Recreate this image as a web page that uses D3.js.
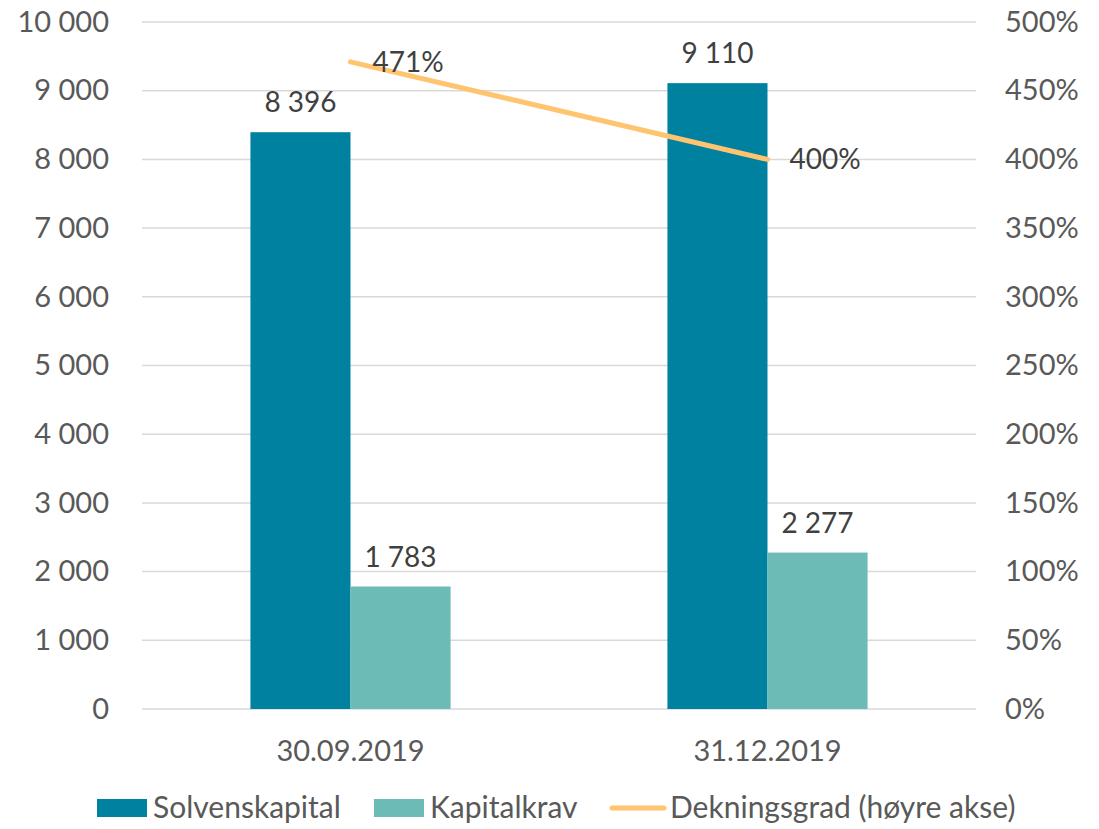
<html>
<head>
<meta charset="utf-8" />
<script src="https://d3js.org/d3.v7.min.js"></script>
<style>
  body { margin: 0; background: #fff; }
  text { font-family: Lato, "Open Sans", sans-serif; }
</style>
</head>
<body>
<div id="chart"></div>
<script>
// data
const datoer = ["30.09.2019", "31.12.2019"];
const solvenskapital = [8396, 9110];
const kapitalkrav = [1783, 2277];
const dekningsgrad = [471, 400];   // prosent, hoyre akse
const venstreTicks = [0, 1000, 2000, 3000, 4000, 5000, 6000, 7000, 8000, 9000, 10000];
const hoyreTicks = [0, 50, 100, 150, 200, 250, 300, 350, 400, 450, 500];
const serier = ["Solvenskapital", "Kapitalkrav"];
const farger = ["#0081A0", "#6CBBB7"];
const linjeFarge = "#FFC470";

const W = 1099, H = 829;
const venstre = 142, hoyre = 976, topp = 22, bunn = 709;

const svg = d3.select("#chart").append("svg").attr("width", W).attr("height", H);

const x = d3.scaleBand().domain(datoer).range([venstre, hoyre]).paddingInner(0.52).paddingOuter(0.26);
const xs = d3.scaleBand().domain(serier).range([0, x.bandwidth()]);
const y = d3.scaleLinear().domain([0, 10000]).range([bunn, topp]);
const y2 = d3.scaleLinear().domain([0, 500]).range([bunn, topp]);

const tall = d => d3.format(",")(d).replace(/,/g, " ");

// rutenett
svg.append("g").selectAll("line").data(venstreTicks).join("line")
  .attr("x1", venstre).attr("x2", hoyre)
  .attr("y1", d => y(d)).attr("y2", d => y(d))
  .attr("stroke", "#D9D9D9").attr("stroke-width", 1.5);

// venstre akse
svg.append("g").attr("transform", `translate(${venstre - 30},0)`)
  .call(d3.axisLeft(y).tickValues(venstreTicks).tickFormat(tall).tickSize(0))
  .call(g => g.select(".domain").remove())
  .selectAll("text").attr("font-size", 29).attr("fill", "#595959").attr("font-family", "Lato");

// hoyre akse
svg.append("g").attr("transform", `translate(${hoyre + 26},0)`)
  .call(d3.axisRight(y2).tickValues(hoyreTicks).tickFormat(d => d + "%").tickSize(0))
  .call(g => g.select(".domain").remove())
  .selectAll("text").attr("font-size", 29).attr("fill", "#595959").attr("font-family", "Lato");

// x akse
svg.append("g").attr("transform", `translate(0,${bunn + 28})`)
  .call(d3.axisBottom(x).tickSize(0))
  .call(g => g.select(".domain").remove())
  .selectAll("text").attr("font-size", 29).attr("fill", "#595959").attr("font-family", "Lato");

// stolper
const verdier = [solvenskapital, kapitalkrav];
const grupper = svg.append("g").selectAll("g").data(datoer).join("g")
  .attr("transform", d => `translate(${x(d)},0)`);

grupper.selectAll("rect").data((d, i) => serier.map((s, j) => ({ s, v: verdier[j][i], j })))
  .join("rect")
  .attr("x", d => xs(d.s)).attr("width", xs.bandwidth())
  .attr("y", d => y(d.v)).attr("height", d => bunn - y(d.v))
  .attr("fill", d => farger[d.j]);

grupper.selectAll("text.lab").data((d, i) => serier.map((s, j) => ({ s, v: verdier[j][i], j })))
  .join("text").attr("class", "lab")
  .attr("x", d => xs(d.s) + xs.bandwidth() / 2)
  .attr("y", d => y(d.v) - 20)
  .attr("text-anchor", "middle")
  .attr("font-size", 28).attr("fill", "#404040")
  .text(d => tall(d.v));

// linje
const cx = d => x(d) + x.bandwidth() / 2;
const linje = d3.line().x((d, i) => cx(datoer[i])).y(d => y2(d));
svg.append("path").datum(dekningsgrad)
  .attr("d", linje)
  .attr("fill", "none").attr("stroke", linjeFarge).attr("stroke-width", 5)
  .attr("stroke-linecap", "round");

svg.append("g").selectAll("text").data(dekningsgrad).join("text")
  .attr("x", (d, i) => cx(datoer[i]) + 22)
  .attr("y", d => y2(d) + 10)
  .attr("font-size", 28).attr("fill", "#404040")
  .text(d => d + "%");

// forklaring
const leg = svg.append("g").attr("transform", "translate(0,808)");
const legPos = [97, 374, 612];
serier.forEach((s, j) => {
  leg.append("rect").attr("x", legPos[j]).attr("y", -9).attr("width", 50).attr("height", 18).attr("fill", farger[j]);
  leg.append("text").attr("x", legPos[j] + 56).attr("y", 10).attr("font-size", 30).attr("fill", "#595959").text(s);
});
leg.append("line").attr("x1", legPos[2]).attr("x2", legPos[2] + 52).attr("y1", 0).attr("y2", 0)
  .attr("stroke", linjeFarge).attr("stroke-width", 5).attr("stroke-linecap", "round");
leg.append("text").attr("x", legPos[2] + 58).attr("y", 10).attr("font-size", 30).attr("fill", "#595959")
  .text("Dekningsgrad (høyre akse)");
</script>
</body>
</html>
